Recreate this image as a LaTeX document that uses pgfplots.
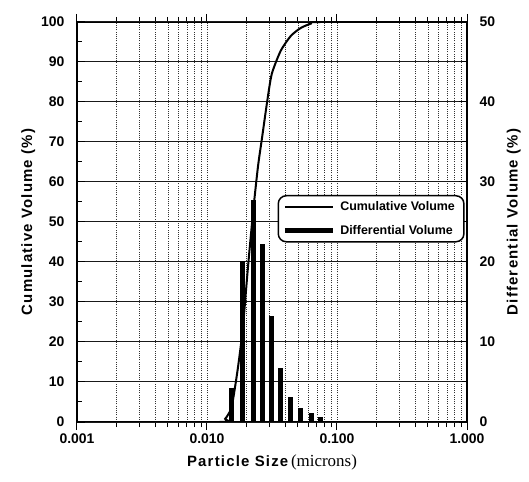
\documentclass[border=0pt]{standalone}
\usepackage{fontspec}
\setmainfont{Liberation Sans}
\newfontfamily\labfont[LetterSpace=8]{Liberation Sans}
\newfontfamily\seriffont{Liberation Serif}
\usepackage{pgfplots}
\pgfplotsset{compat=1.18}
\begin{document}
\begin{tikzpicture}
% Axis B: x axis, vertical grid, outside ticks
\begin{axis}[name=ax,
  scale only axis, width=390bp, height=400bp,
  xmode=log, xmin=0.001, xmax=1,
  /pgf/number format/assume math mode=true,
  tick label style={font=\bfseries\fontsize{14}{14}\selectfont},
  major tick length=8bp, minor tick length=5bp,
  every tick/.style={black, line width=1bp},
  axis line style={line width=1.3bp},
  ymin=0, ymax=100, hide y axis,
  xtick={0.001,0.01,0.1,1},
  xticklabels={0.001,0.010,0.100,1.000},
  xtick pos=both, tick align=outside,
  xticklabel pos=lower,
  xmajorgrids, xminorgrids,
  major grid style={black!80, line width=0.7bp, dash pattern=on 1bp off 1.2bp},
  minor grid style={black!80, line width=0.7bp, dash pattern=on 1bp off 1.2bp},
  xlabel={{\labfont\bfseries\fontsize{15}{15}\selectfont Particle Size} {\seriffont\fontsize{17}{17}\selectfont(microns)}},
  xlabel style={at={(axis description cs:0.5,-0.102)}, anchor=center},
]
\addplot[draw=none] coordinates {(0.01,0)};
\end{axis}
% Axis A: left y axis, horizontal grid, cumulative curve
\begin{axis}[
  scale only axis, width=390bp, height=400bp,
  xmode=log, xmin=0.001, xmax=1,
  /pgf/number format/assume math mode=true,
  tick label style={font=\bfseries\fontsize{14}{14}\selectfont},
  major tick length=8bp, minor tick length=5bp,
  every tick/.style={black, line width=1bp},
  axis line style={line width=1.3bp},
  ymin=0, ymax=100, hide x axis,
  ytick={0,10,...,100}, minor y tick num=1,
  ytick pos=left, tick align=inside,
  yticklabel style={xshift=-9bp},
  ymajorgrids,
  major grid style={black!90, line width=1bp},
  ylabel={\labfont\bfseries\fontsize{15}{15}\selectfont Cumulative Volume (\%)},
  ylabel style={at={(axis description cs:-0.125,0.5)}, anchor=center},
]
\addplot[black, line width=2bp, smooth, tension=0.4] coordinates {
(0.001,0) (0.0125,0) (0.0138,0.8) (0.0150,2.6) (0.0156,4.2) (0.0172,13)
(0.0188,23) (0.0207,39) (0.0227,53) (0.0247,64) (0.0265,71) (0.0290,80)
(0.0315,87) (0.0369,92.8) (0.0441,96.5) (0.0526,98.5) (0.0631,99.6)
(0.0750,100) (1,100)};
\end{axis}
% Axis C: right y axis, differential bars, legend
\begin{axis}[
  scale only axis, width=390bp, height=400bp,
  xmode=log, xmin=0.001, xmax=1,
  /pgf/number format/assume math mode=true,
  tick label style={font=\bfseries\fontsize{14}{14}\selectfont},
  major tick length=8bp, minor tick length=5bp,
  every tick/.style={black, line width=1bp},
  axis line style={line width=1.3bp},
  ymin=0, ymax=50, hide x axis,
  axis y line*=right,
  ytick={0,10,...,50}, minor y tick num=1,
  tick align=inside,
  yticklabel style={xshift=9bp},
  ylabel={\labfont\bfseries\fontsize{15}{15}\selectfont Differential Volume (\%)},
  ylabel style={at={(axis description cs:1.12,0.5)}, anchor=center},
  legend cell align=left,
  legend style={at={(rel axis cs:0.994,0.5675)}, anchor=north east,
    draw=black, line width=1.5bp, rounded corners=8bp, fill=white,
    font=\bfseries\fontsize{12.5}{14}\selectfont,
    row sep=9bp, inner xsep=4bp, inner ysep=4bp,
    nodes={inner xsep=5bp}},
]
\addlegendimage{legend image code/.code={\draw[black, line width=2bp] (0bp,0bp) -- (48bp,0bp);}}
\addlegendentry{Cumulative Volume}
\addplot[ycomb, black, line width=5bp,
  legend image code/.code={\draw[black, line width=5bp] (0bp,0bp) -- (48bp,0bp);}]
coordinates {
(0.0153,4.2) (0.0188,20.1) (0.0227,27.8) (0.0265,22.2) (0.0315,13.3)
(0.0369,6.7) (0.0441,3.1) (0.0526,1.8) (0.0631,1.1) (0.0750,0.6)};
\addlegendentry{Differential Volume}
\end{axis}
\pgfresetboundingbox
\path[use as bounding box] ([xshift=-77bp,yshift=-60bp]ax.south west) rectangle ([xshift=62bp,yshift=22bp]ax.north east);
\end{tikzpicture}
\end{document}
